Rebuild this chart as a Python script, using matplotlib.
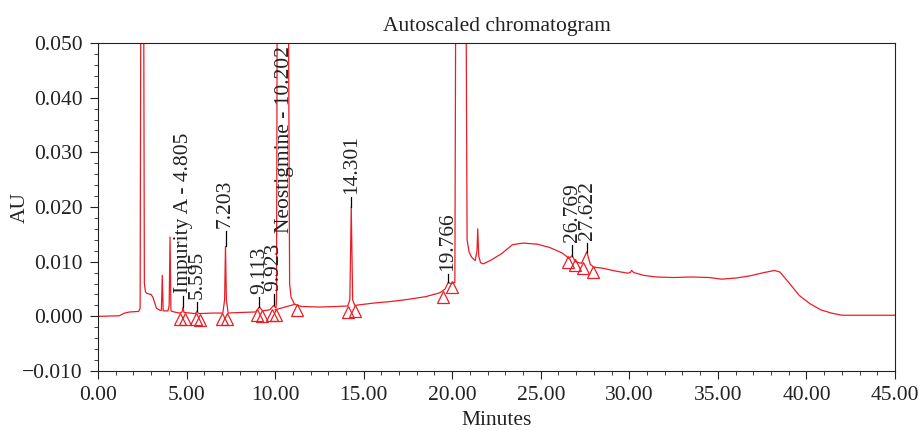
import matplotlib.pyplot as plt
from matplotlib.ticker import MultipleLocator, FuncFormatter

plt.rcParams['font.family'] = ['Liberation Serif', 'DejaVu Serif']

TRACE_COLOR = '#ec1c24'
TEXT_COLOR = '#222222'
FONT_SIZE = 15.5

# chromatogram trace (minutes, AU)
time = [0.0, 1.2, 1.5, 1.8, 2.3, 2.38, 2.42, 2.58, 2.62, 2.68, 2.75, 3.0, 3.1, 3.3,
        3.5, 3.58, 3.63, 3.68, 3.95, 4.02, 4.07, 4.12, 4.3, 4.6, 4.75, 4.80, 4.86,
        5.2, 5.5, 5.59, 5.68, 6.5, 7.05, 7.15, 7.20, 7.25, 7.35, 8.0, 8.9, 9.11,
        9.3, 9.7, 9.92, 10.05, 10.08, 10.12, 10.75, 10.82, 10.9, 11.1, 11.5, 12.5,
        13.5, 14.1, 14.22, 14.30, 14.38, 14.5, 15.5, 16.5, 17.5, 18.5, 19.3, 19.6,
        19.77, 19.9, 20.15, 20.2, 20.78, 20.84, 20.95, 21.1, 21.3, 21.4, 21.44,
        21.5, 21.6, 21.76, 22.2, 22.8, 23.4, 24.0, 24.8, 25.5, 26.2, 26.6, 26.77,
        26.95, 27.3, 27.6, 27.8, 28.0, 28.5, 29.2, 29.9, 30.05, 30.13, 30.25,
        30.8, 31.5, 32.5, 33.5, 34.5, 35.2, 36.0, 36.8, 37.6, 38.2, 38.5, 39.0,
        39.6, 40.2, 40.8, 41.4, 42.0, 45.0]
absorbance = [0.0000, 0.0001, 0.0006, 0.0008, 0.0009, 0.0015, 0.06, 0.06, 0.006,
              0.0045, 0.0042, 0.0040, 0.0035, 0.0015, 0.0011, 0.0011, 0.0075,
              0.0010, 0.0010, 0.0020, 0.0145, 0.0010, 0.0008, 0.0006, 0.0008,
              0.0017, 0.0007, 0.0006, 0.0005, 0.0009, 0.0005, 0.0006, 0.0006,
              0.0030, 0.0128, 0.0030, 0.0006, 0.0007, 0.0008, 0.0017, 0.0010,
              0.0012, 0.0020, 0.0015, 0.0030, 0.06, 0.06, 0.0060, 0.0035, 0.0022,
              0.0018, 0.0017, 0.0018, 0.0019, 0.0030, 0.0200, 0.0030, 0.0020,
              0.0024, 0.0027, 0.0031, 0.0036, 0.0043, 0.0050, 0.0062, 0.0060,
              0.0062, 0.06, 0.06, 0.0140, 0.0118, 0.0108, 0.0102, 0.0120, 0.0160,
              0.0110, 0.0098, 0.0096, 0.0103, 0.0115, 0.0131, 0.0134, 0.0132,
              0.0126, 0.0116, 0.0106, 0.0111, 0.0100, 0.0097, 0.0118, 0.0095,
              0.0090, 0.0088, 0.0083, 0.0079, 0.0080, 0.0084, 0.0080, 0.0075,
              0.0072, 0.0071, 0.0072, 0.0071, 0.0068, 0.0070, 0.0074, 0.0080,
              0.0084, 0.0081, 0.0062, 0.0038, 0.0023, 0.0012, 0.0006, 0.0002,
              0.0002]

# integration baseline under the neostigmine peak
baseline_time = [10.0, 11.12]
baseline_au = [0.0012, 0.0022]

# peak start / end markers
marker_time = [4.63, 4.91, 5.53, 5.76, 6.98, 7.30, 8.96, 9.24, 9.81, 10.05, 11.22,
               14.13, 14.51, 19.50, 19.97, 26.56, 26.93, 27.40, 27.97]
marker_au = [-0.0004, -0.0004, -0.0004, -0.0006, -0.0004, -0.0004, 0.0002, 0.0000,
             0.0002, 0.0002, 0.0011, 0.0008, 0.0010, 0.0035, 0.0054, 0.0099,
             0.0093, 0.0089, 0.0081]

# peak labels: text, x, apex, top of label tick
peak_labels = ['Impurity A - 4.805', '5.595', '7.203', '9.113', '9.923',
               '14.301', '19.766', '26.769', '27.622']
peak_time = [4.805, 5.595, 7.203, 9.113, 9.923, 14.301, 19.766, 26.769, 27.622]
peak_apex = [0.0017, 0.0009, 0.0128, 0.0017, 0.0020, 0.0200, 0.0062, 0.0111, 0.0118]
peak_tick_top = [0.0038, 0.0026, 0.0157, 0.0035, 0.0041, 0.0218, 0.0077, 0.0130, 0.0134]

main_label = 'Neostigmine - 10.202'
main_label_pos = (10.55, 0.0152)


def minus_format(fmt):
    return FuncFormatter(lambda v, pos: (fmt % v).replace('-', '\u2212'))


fig = plt.figure(figsize=(9.19, 4.30), dpi=100)
ax = fig.add_axes([0.1066, 0.1372, 0.8673, 0.7628])

ax.plot(time, absorbance, color=TRACE_COLOR, lw=0.9)
ax.plot(baseline_time, baseline_au, color=TRACE_COLOR, lw=0.9)
ax.plot(marker_time, marker_au, ls='none', marker='^', ms=9, mfc='none',
        mec=TRACE_COLOR, mew=0.9)

for label, t, apex, top in zip(peak_labels, peak_time, peak_apex, peak_tick_top):
    ax.plot([t, t], [apex, top], color='black', lw=0.9)
    ax.annotate(label, (t, top), xytext=(0, 2), textcoords='offset points',
                rotation=90, ha='center', va='bottom', fontsize=FONT_SIZE,
                color=TEXT_COLOR)
ax.text(main_label_pos[0], main_label_pos[1], main_label, rotation=90,
        ha='center', va='bottom', fontsize=FONT_SIZE, color=TEXT_COLOR)

ax.set_xlim(0, 45)
ax.set_ylim(-0.010, 0.050)
ax.xaxis.set_major_locator(MultipleLocator(5))
ax.xaxis.set_minor_locator(MultipleLocator(1))
ax.yaxis.set_major_locator(MultipleLocator(0.01))
ax.yaxis.set_minor_locator(MultipleLocator(0.002))
ax.xaxis.set_major_formatter(minus_format('%.2f'))
ax.yaxis.set_major_formatter(minus_format('%.3f'))
ax.tick_params(which='both', direction='out', colors=TEXT_COLOR,
               labelsize=FONT_SIZE, top=False, right=False)
ax.tick_params(which='major', length=6, pad=5)
ax.tick_params(which='minor', length=3)
for spine in ax.spines.values():
    spine.set_color(TEXT_COLOR)

ax.set_title('Autoscaled chromatogram', fontsize=FONT_SIZE, color=TEXT_COLOR, pad=9)
ax.set_xlabel('Minutes', fontsize=FONT_SIZE, color=TEXT_COLOR, labelpad=4)
ax.set_ylabel('AU', fontsize=FONT_SIZE, color=TEXT_COLOR)
ax.yaxis.set_label_coords(-0.086, 0.5)

fig.savefig('out.png', dpi=100)
